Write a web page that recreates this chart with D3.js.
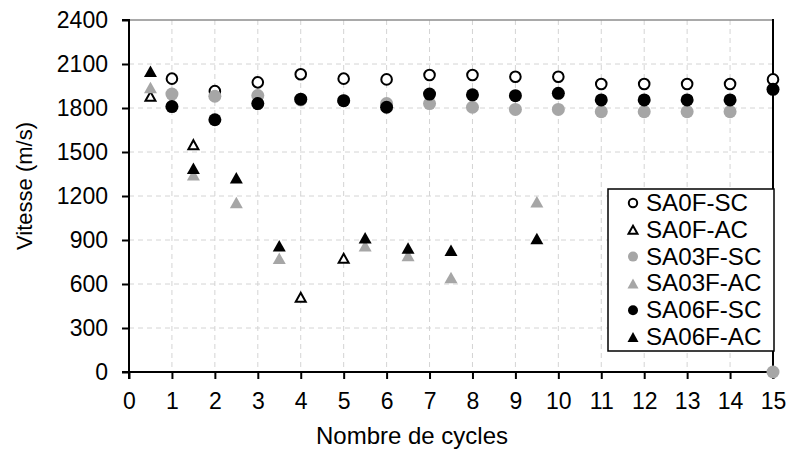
<!DOCTYPE html>
<html><head><meta charset="utf-8">
<script src="https://cdn.jsdelivr.net/npm/d3@7"></script>
<style>body{margin:0;background:#fff}svg{display:block}text{font-family:"Liberation Sans",Arial,sans-serif;fill:#000}</style>
</head><body>
<svg id="c" width="789" height="449"></svg>
<script>
const cycles = [1,2,3,4,5,6,7,8,9,10,11,12,13,14,15];
const sa0fSc = [2000,1915,1975,2030,2000,1995,2025,2025,2013,2013,1964,1964,1964,1964,1995];
const sa0fAcX = [0.5,1.5,4,5];
const sa0fAc = [1880,1550,510,775];
const sa03fSc = [1895,1880,1885,1855,1850,1830,1830,1805,1790,1790,1775,1775,1775,1775,0];
const acX = [0.5,1.5,2.5,3.5,5.5,6.5,7.5,9.5];
const sa03fAc = [1940,1345,1155,775,860,795,645,1160];
const sa06fSc = [1810,1720,1830,1860,1850,1805,1895,1890,1884,1900,1855,1855,1855,1855,1927];
const sa06fAc = [2050,1390,1325,860,915,845,830,910];
const xTicks = d3.range(0,16);
const yTicks = [0,300,600,900,1200,1500,1800,2100,2400];
const seriesNames = ["SA0F-SC","SA0F-AC","SA03F-SC","SA03F-AC","SA06F-SC","SA06F-AC"];

const GRAY = "#a6a6a6";
const series = [
  {name:seriesNames[0], xs:cycles, ys:sa0fSc, shape:"circle", fill:"#fff", stroke:"#000"},
  {name:seriesNames[1], xs:sa0fAcX, ys:sa0fAc, shape:"tri", fill:"#fff", stroke:"#000"},
  {name:seriesNames[2], xs:cycles, ys:sa03fSc, shape:"circle", fill:GRAY, stroke:null},
  {name:seriesNames[3], xs:acX, ys:sa03fAc, shape:"tri", fill:GRAY, stroke:null},
  {name:seriesNames[4], xs:cycles, ys:sa06fSc, shape:"circle", fill:"#000", stroke:null},
  {name:seriesNames[5], xs:acX, ys:sa06fAc, shape:"tri", fill:"#000", stroke:null}
];

const svg = d3.select("#c");
const L=129, R=773, T=20, B=372;
const x = d3.scaleLinear().domain([0,15]).range([L,R]);
const y = d3.scaleLinear().domain([0,2400]).range([B,T]);

// gridlines
const g = svg.append("g");
g.selectAll("line.vg").data(xTicks.filter(d=>d>0&&d<15)).join("line")
  .attr("x1",d=>x(d)).attr("x2",d=>x(d)).attr("y1",T).attr("y2",B)
  .attr("stroke","#d4d4d4").attr("stroke-width",1).attr("stroke-dasharray","5,4");
g.selectAll("line.hg").data(yTicks.filter(d=>d>0&&d<2400)).join("line")
  .attr("x1",L).attr("x2",R).attr("y1",d=>y(d)).attr("y2",d=>y(d))
  .attr("stroke","#d4d4d4").attr("stroke-width",1).attr("stroke-dasharray","5,4");
// top border and right border
svg.append("line").attr("x1",L).attr("x2",R).attr("y1",T).attr("y2",T).attr("stroke","#8c8c8c").attr("stroke-width",1.5);
svg.append("line").attr("x1",R).attr("x2",R).attr("y1",T-1).attr("y2",B).attr("stroke","#000").attr("stroke-width",2);

// axes
const xAxis = d3.axisBottom(x).tickValues(xTicks).tickSize(7).tickPadding(14).tickFormat(d3.format("d"));
const yAxis = d3.axisLeft(y).tickValues(yTicks).tickSize(7).tickPadding(14).tickFormat(d3.format("d"));
const gx = svg.append("g").attr("transform",`translate(0,${B})`).call(xAxis);
const gy = svg.append("g").attr("transform",`translate(${L},0)`).call(yAxis);
[gx,gy].forEach(a=>{
  a.select(".domain").attr("stroke","#000").attr("stroke-width",2);
  a.selectAll(".tick line").attr("stroke","#000").attr("stroke-width",2);
  a.selectAll(".tick text").attr("font-size",23).attr("font-family","Liberation Sans, Arial, sans-serif").attr("fill","#000");
});
gy.select(".domain").attr("d",`M-7,${T}H0V${B}H-7`);
gx.select(".domain").attr("d",`M${L},7V0H${R}V7`);

// axis titles
svg.append("text").attr("transform","translate(32,186) rotate(-90)").attr("text-anchor","middle")
  .attr("font-size",22).text("Vitesse (m/s)");
svg.append("text").attr("x",412).attr("y",444).attr("text-anchor","middle")
  .attr("font-size",24).text("Nombre de cycles");

function triPath(w,h){ return `M0,${-h/2}L${w/2},${h/2}L${-w/2},${h/2}Z`; }

function drawMarker(sel, s, legend){
  if(s.shape==="circle"){
    const r = s.stroke ? (legend?4.2:5.3) : (legend?5:6.5);
    sel.append("circle").attr("r",r).attr("fill",s.fill)
      .attr("stroke",s.stroke||"none").attr("stroke-width",s.stroke?2:0);
  } else {
    const w = s.stroke ? (legend?9:10) : (legend?11:13);
    const h = s.stroke ? (legend?8:9) : (legend?10:11.5);
    sel.append("path").attr("d",triPath(w,h)).attr("fill",s.fill)
      .attr("stroke",s.stroke||"none").attr("stroke-width",s.stroke?2:0).attr("stroke-linejoin","miter");
  }
}

series.forEach(s=>{
  const pts = s.xs.map((xv,i)=>[xv,s.ys[i]]);
  const gg = svg.append("g");
  pts.forEach(p=>{
    const m = gg.append("g").attr("transform",`translate(${x(p[0])},${y(p[1])})`);
    drawMarker(m,s,false);
  });
});

// legend
const lg = svg.append("g");
lg.append("rect").attr("x",608).attr("y",189).attr("width",166).attr("height",162)
  .attr("fill","#fff").attr("stroke","#000").attr("stroke-width",1.5);
series.forEach((s,i)=>{
  const yy = 203 + i*26.8;
  const m = lg.append("g").attr("transform",`translate(633,${yy})`);
  drawMarker(m,s,true);
  lg.append("text").attr("transform",`translate(646,${yy+8}) scale(1.05,1)`).attr("font-size",23).text(s.name);
});
</script>
</body></html>
